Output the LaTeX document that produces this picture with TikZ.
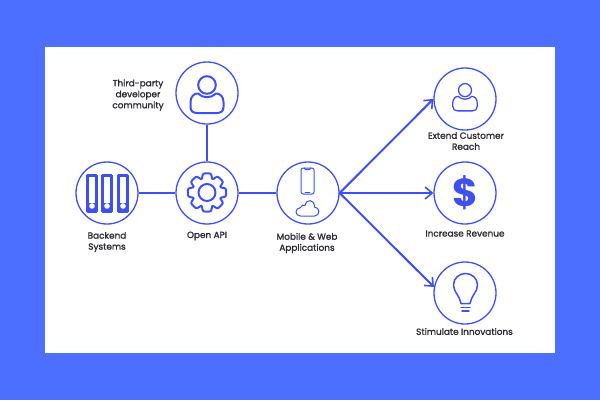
\documentclass[tikz,border=0pt]{standalone}
\usepackage{fontspec}
\setmainfont{Poppins}
\newfontfamily\lblfont{Poppins:embolden=1.4}
\usetikzlibrary{arrows.meta}
\definecolor{bgblue}{HTML}{4D6FFF}
\definecolor{ink}{HTML}{3F50EE}
\definecolor{txt}{HTML}{2B2B33}
\tikzset{
  hub/.style={circle,draw=ink,line width=1.3pt,minimum size=62pt,inner sep=0pt},
  link/.style={draw=ink,line width=2pt},
  arrowlink/.style={link,-{Straight Barb[length=7pt,width=12pt,line width=1.6pt]}},
  icon/.style={draw=ink,line width=2pt,line join=round,line cap=round},
  thin icon/.style={draw=ink,line width=1pt,line join=round,line cap=round},
  lbl/.style={font=\lblfont\fontsize{8.9}{11}\selectfont,text=txt,align=center,inner sep=0pt},
}
\newcommand{\personicon}[4]{%
  \begin{scope}[shift={(#1,#2)},scale=#4]
    \draw[#3] (0,-14) circle (8.8);
    \draw[#3] (-9,-5.5) .. controls (-4,-.5) and (4,-.5) .. (9,-5.5)
      .. controls (13,-6) and (16.5,-2) .. (16.5,3) -- (16.5,8)
      .. controls (16.5,12) and (14,14) .. (10,14) -- (-10,14)
      .. controls (-14,14) and (-16.5,12) .. (-16.5,8) -- (-16.5,3)
      .. controls (-16.5,-2) and (-13,-6) .. (-9,-5.5) -- cycle;
  \end{scope}}
\newcommand{\binder}[1]{%
  \begin{scope}[shift={(#1,193.5)}]
    \draw[icon,line width=2.2pt] (-4.5,-18) rectangle (4.5,18);
    \fill[ink] (-4.5,9) rectangle (4.5,18);
    \fill[white] (0,12.5) circle (2.8);
  \end{scope}}
\begin{document}
\begin{tikzpicture}[x=1pt,y=-1pt]
\useasboundingbox (0,0) rectangle (600,400);
\fill[bgblue] (0,0) rectangle (600,400);
\fill[white] (45,47) rectangle (555,353);

\node[hub] (dev) at (207,93) {};
\node[hub] (back) at (107,193) {};
\node[hub] (api) at (207,193) {};
\node[hub] (app) at (308,193) {};
\node[hub] (reach) at (465,99) {};
\node[hub] (rev) at (465,193) {};
\node[hub] (inno) at (465,293) {};

\draw[link] (dev) -- (api);
\draw[link] (back) -- (api);
\draw[link] (api) -- (app);
\draw[arrowlink] (app.east) -- (reach.west);
\draw[arrowlink] (app.east) -- (rev.west);
\draw[arrowlink] (app.east) -- (inno.169);

% icons
\personicon{207}{99}{icon}{1}
\personicon{465}{100.5}{thin icon,line width=1.3pt}{0.74}
\binder{92}\binder{107}\binder{123}

% gear
\begin{scope}[shift={(207,192.5)}]
  \draw[icon] plot[smooth cycle,tension=0.45] coordinates {
    (-11:19)(11:19)(22.5:14.5)
    (34:19)(56:19)(67.5:14.5)
    (79:19)(101:19)(112.5:14.5)
    (124:19)(146:19)(157.5:14.5)
    (169:19)(191:19)(202.5:14.5)
    (214:19)(236:19)(247.5:14.5)
    (259:19)(281:19)(292.5:14.5)
    (304:19)(326:19)(337.5:14.5)};
  \draw[icon] (0,0) circle (8.5);
\end{scope}

% phone
\begin{scope}[shift={(307.5,181)}]
  \draw[thin icon,rounded corners=2pt] (-6.5,-13) rectangle (6.5,13);
  \draw[thin icon] (-3,-13) -- (-2.2,-11.5) -- (2.2,-11.5) -- (3,-13);
  \draw[thin icon,line width=.6pt] (-2.5,11) -- (2.5,11);
\end{scope}
% cloud
\begin{scope}[shift={(307.5,208.5)}]
  \draw[thin icon] (-7,7.5) .. controls (-13,7.5) and (-13,-.5) .. (-7,-1)
    .. controls (-6.5,-3.5) and (-3.5,-4) .. (-2.5,-3)
    .. controls (-1,-10) and (7,-9.5) .. (7,-1.5)
    .. controls (12.5,-1.5) and (13,7.5) .. (7,7.5) -- cycle;
\end{scope}

% dollar
\node[font=\fontsize{39}{39}\selectfont\bfseries,text=ink,inner sep=0pt] (dollar) at (465,193) {\$};

% bulb
\begin{scope}[shift={(465.5,293)}]
  \draw[icon,line width=1.5pt] (-4.5,10.5) .. controls (-5.5,3) and (-12,-1) .. (-12,-8)
    .. controls (-12,-15) and (-6,-19.5) .. (0,-19.5)
    .. controls (6,-19.5) and (12,-15) .. (12,-8)
    .. controls (12,-1) and (5.5,3) .. (4.5,10.5) -- cycle;
  \draw[icon,line width=1.5pt] (-4.5,14.5) -- (4.5,14.5);
  \draw[icon,line width=1.5pt] (-3.5,18) -- (3.5,18);
\end{scope}

% labels
\node[lbl] (tdev) at (138,95) {Third-party\\developer\\community};
\node[lbl] (tback) at (107,242) {Backend\\Systems};
\node[lbl] (tapi) at (207,236) {Open API};
\node[lbl] (tapp) at (307,243) {Mobile \& Web\\Applications};
\node[lbl] (treach) at (466,141) {Extend Customer\\Reach};
\node[lbl] (trev) at (465,233.5) {Increase Revenue};
\node[lbl] (tinno) at (464.5,331.5) {Stimulate Innovations};
\end{tikzpicture}
\end{document}
